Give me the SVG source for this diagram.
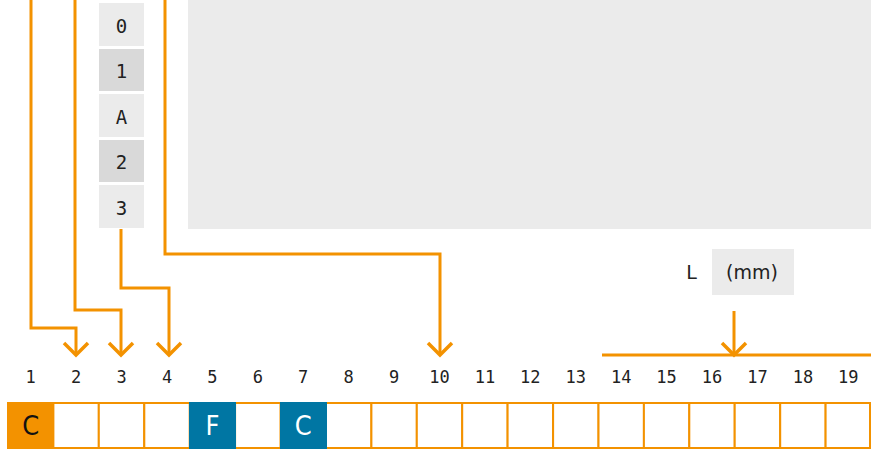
<svg xmlns="http://www.w3.org/2000/svg" width="871" height="450" viewBox="0 0 871 450">
<style>
.conn{fill:none;stroke:#f39200;stroke-width:3;stroke-linejoin:miter}
.head{fill:none;stroke:#f39200;stroke-width:3.5}
.cell{fill:#fff;stroke:#f39200;stroke-width:2}
.num{font-family:"DejaVu Sans Mono",monospace;font-size:17px;fill:#222;text-anchor:middle}
.box{font-family:"DejaVu Sans Mono",monospace;font-size:19px;fill:#222;text-anchor:middle}
.lt{font-family:"DejaVu Sans","Liberation Sans",sans-serif;font-stretch:condensed;font-size:27px;font-weight:500;text-anchor:middle}
.lbl{font-family:"DejaVu Sans","Liberation Sans",sans-serif;font-size:19px;fill:#222;text-anchor:middle}
</style>
<g id="panel"><rect x="188" y="0" width="683" height="229" fill="#ebebeb"/></g>
<g id="stack">
<g id="b0"><rect x="99" y="3" width="45" height="43" fill="#ebebeb"/><text class="box" x="121.5" y="33">0</text></g>
<g id="b1"><rect x="99" y="49" width="45" height="42" fill="#d9d9d9"/><text class="box" x="121.5" y="78">1</text></g>
<g id="bA"><rect x="99" y="94" width="45" height="43" fill="#ebebeb"/><text class="box" x="121.5" y="124">A</text></g>
<g id="b2"><rect x="99" y="140" width="45" height="42" fill="#d9d9d9"/><text class="box" x="121.5" y="169">2</text></g>
<g id="b3"><rect x="99" y="185" width="45" height="43" fill="#ebebeb"/><text class="box" x="121.5" y="215">3</text></g>
</g>
<g id="lunit">
<text class="lbl" x="691.5" y="279">L</text>
<rect x="712" y="249" width="82" height="46" fill="#ebebeb"/>
<text class="lbl" x="752" y="279">(mm)</text>
</g>
<g id="connectors">
<polyline class="conn" points="31,0 31,328 76,328 76,355"/>
<polyline class="head" points="64,343 76,355 88,343"/>
<polyline class="conn" points="75,0 75,310 121,310 121,355"/>
<polyline class="head" points="109,343 121,355 133,343"/>
<polyline class="conn" points="121,229 121,288 169,288 169,355"/>
<polyline class="head" points="157,343 169,355 181,343"/>
<polyline class="conn" points="165,0 165,254 440,254 440,355"/>
<polyline class="head" points="428,343 440,355 452,343"/>
<line class="conn" x1="602" y1="355" x2="871" y2="355"/>
<line class="conn" x1="734" y1="311" x2="734" y2="354"/>
<polyline class="head" points="722,343 734,355 746,343"/>
</g>
<g id="numbers">
<text class="num" x="30.7" y="383">1</text>
<text class="num" x="76.1" y="383">2</text>
<text class="num" x="121.5" y="383">3</text>
<text class="num" x="167" y="383">4</text>
<text class="num" x="212.4" y="383">5</text>
<text class="num" x="257.8" y="383">6</text>
<text class="num" x="303.2" y="383">7</text>
<text class="num" x="348.6" y="383">8</text>
<text class="num" x="394.1" y="383">9</text>
<text class="num" x="439.5" y="383">10</text>
<text class="num" x="484.9" y="383">11</text>
<text class="num" x="530.3" y="383">12</text>
<text class="num" x="575.8" y="383">13</text>
<text class="num" x="621.2" y="383">14</text>
<text class="num" x="666.6" y="383">15</text>
<text class="num" x="712" y="383">16</text>
<text class="num" x="757.4" y="383">17</text>
<text class="num" x="802.9" y="383">18</text>
<text class="num" x="848.3" y="383">19</text>
</g>
<g id="cells">
<rect class="cell" x="53.4" y="403" width="45.4" height="45"/>
<rect class="cell" x="98.8" y="403" width="45.4" height="45"/>
<rect class="cell" x="144.3" y="403" width="45.4" height="45"/>
<rect class="cell" x="235.1" y="403" width="45.4" height="45"/>
<rect class="cell" x="326" y="403" width="45.4" height="45"/>
<rect class="cell" x="371.4" y="403" width="45.4" height="45"/>
<rect class="cell" x="416.8" y="403" width="45.4" height="45"/>
<rect class="cell" x="462.2" y="403" width="45.4" height="45"/>
<rect class="cell" x="507.6" y="403" width="45.4" height="45"/>
<rect class="cell" x="553.1" y="403" width="45.4" height="45"/>
<rect class="cell" x="598.5" y="403" width="45.4" height="45"/>
<rect class="cell" x="643.9" y="403" width="45.4" height="45"/>
<rect class="cell" x="689.3" y="403" width="45.4" height="45"/>
<rect class="cell" x="734.7" y="403" width="45.4" height="45"/>
<rect class="cell" x="780.2" y="403" width="45.4" height="45"/>
<rect class="cell" x="825.6" y="403" width="44.4" height="45"/>
<g id="c1"><rect x="7" y="402" width="47" height="47" fill="#f39200"/><text class="lt" x="30.7" y="435" fill="#111">C</text></g>
<g id="c5"><rect x="189" y="402" width="47" height="47" fill="#0076a3"/><text class="lt" x="212.4" y="435" fill="#fff">F</text></g>
<g id="c7"><rect x="280" y="402" width="47" height="47" fill="#0076a3"/><text class="lt" x="303.2" y="435" fill="#fff">C</text></g>
</g>
</svg>
